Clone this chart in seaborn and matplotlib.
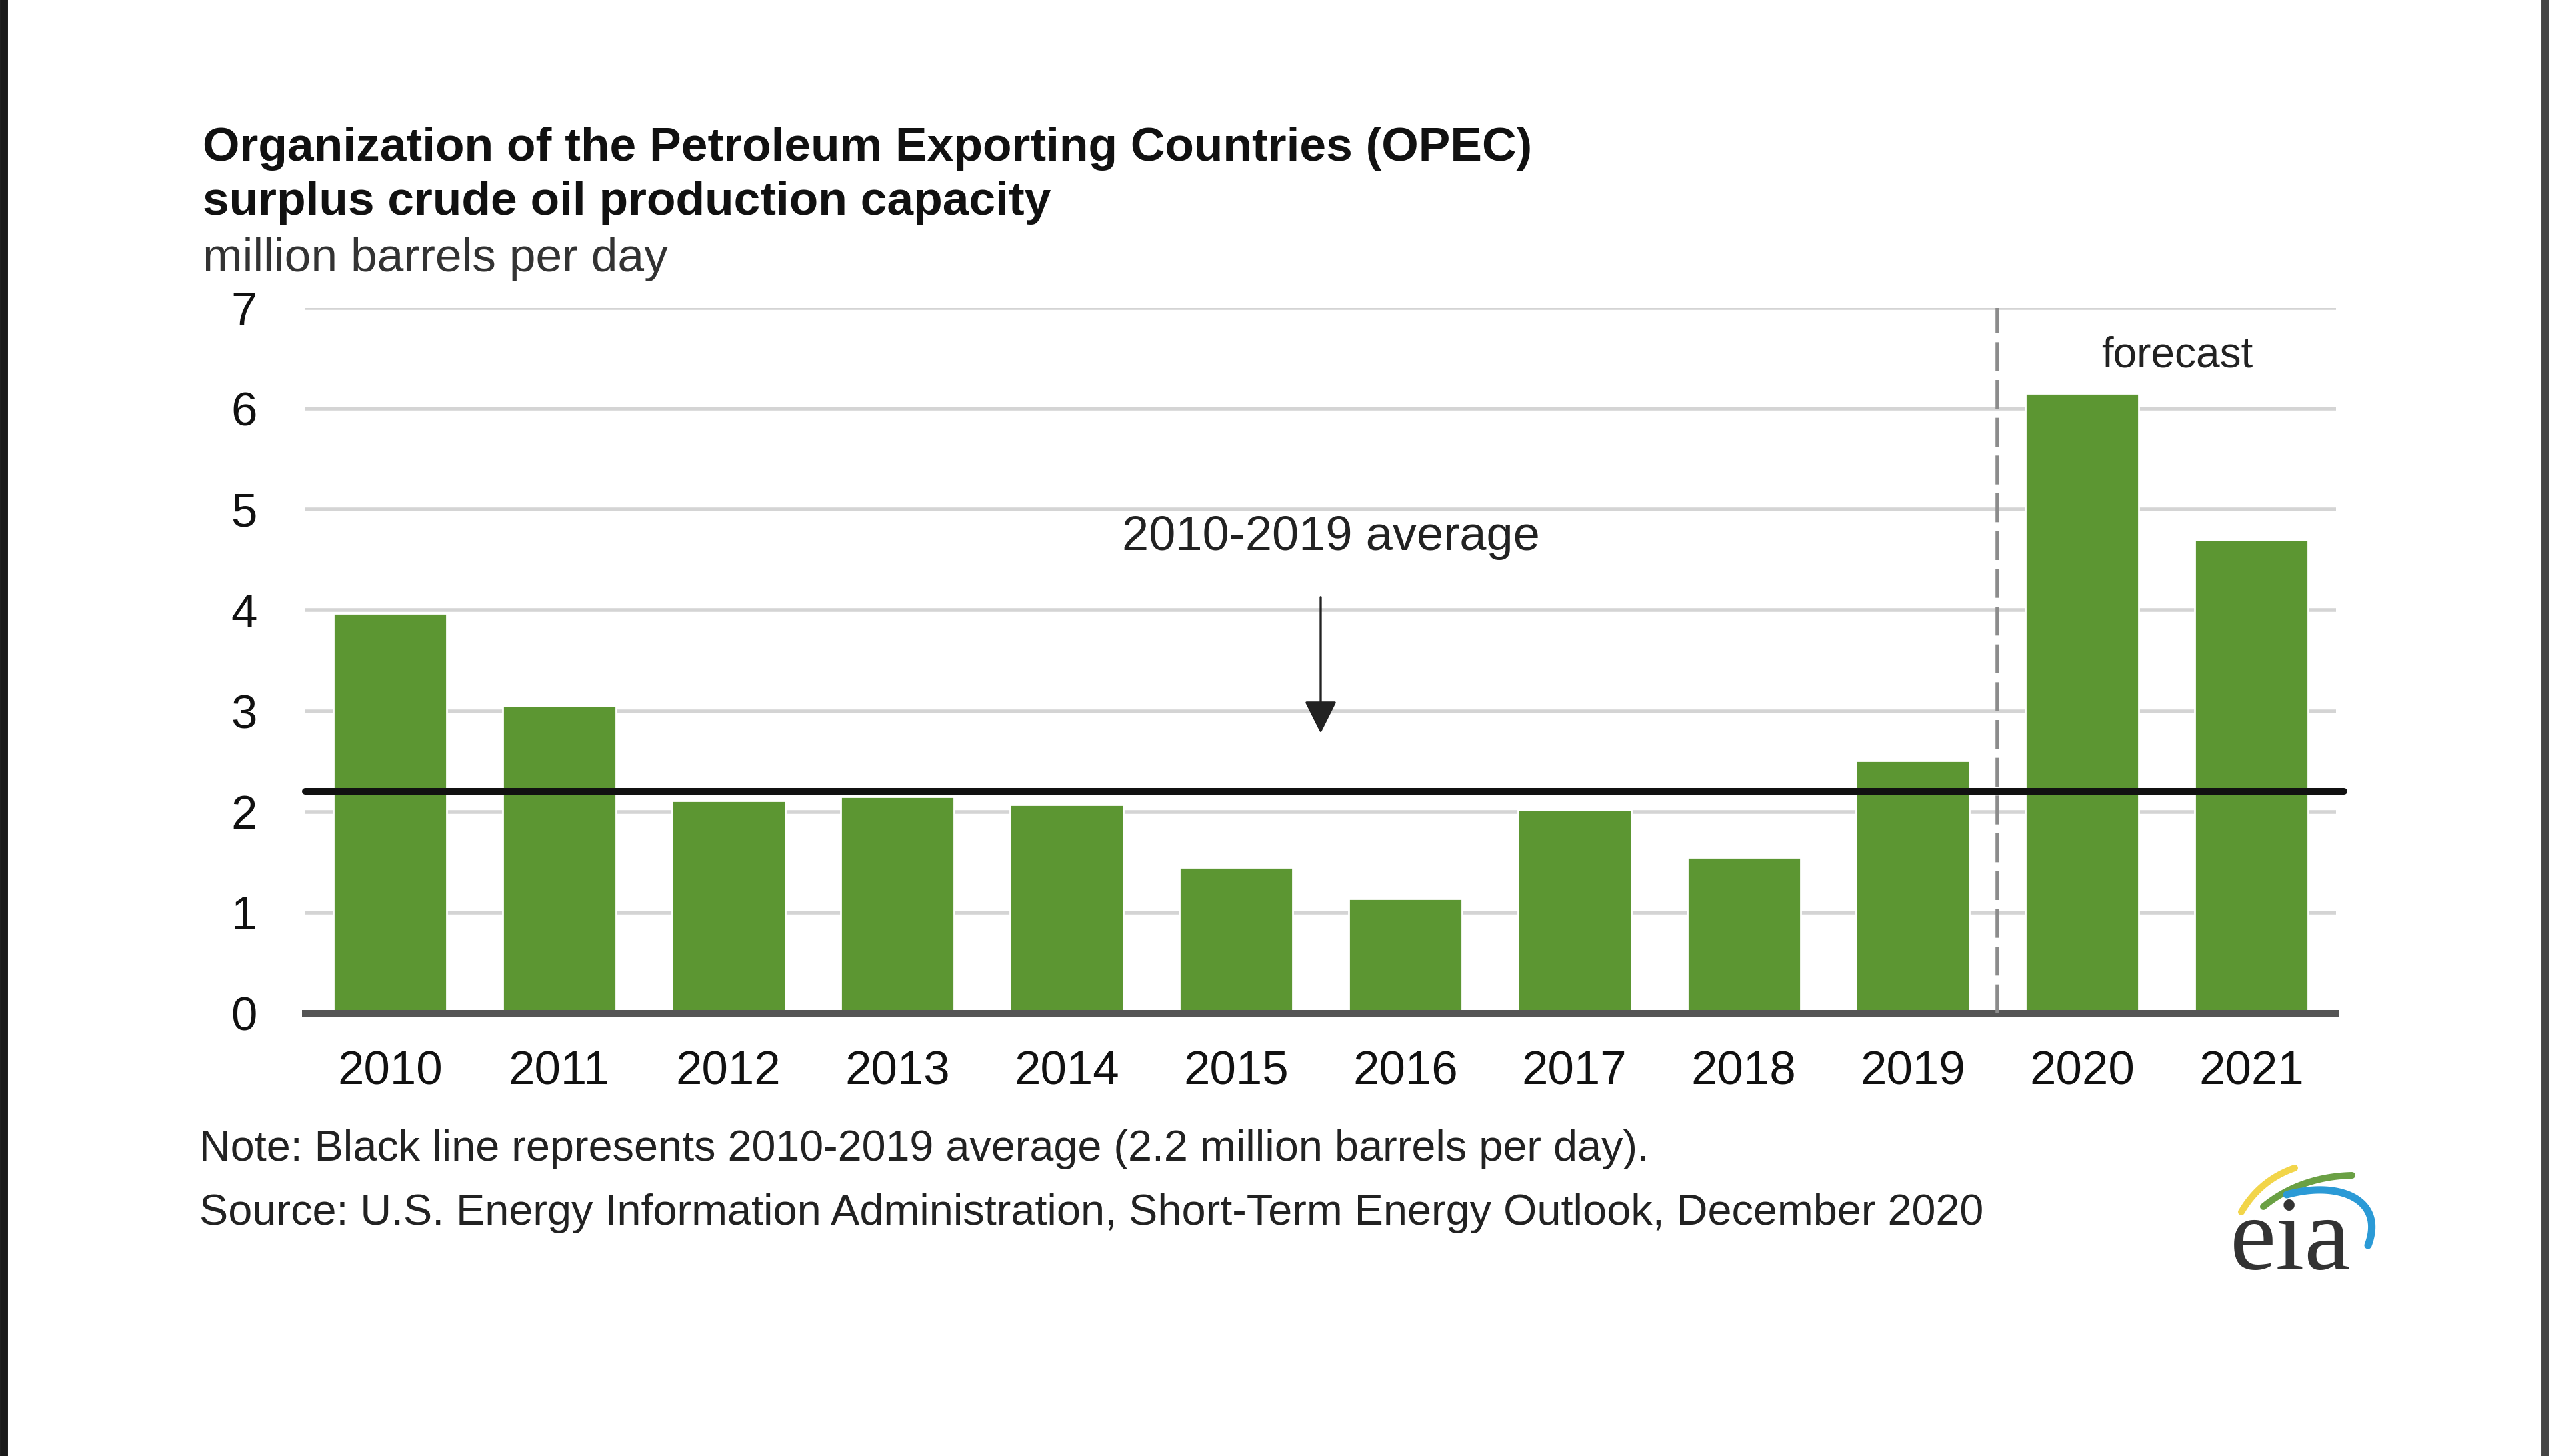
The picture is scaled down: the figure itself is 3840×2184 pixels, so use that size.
import matplotlib
matplotlib.use("Agg")
import matplotlib.pyplot as plt
import seaborn as sns
import pandas as pd
import numpy as np

# data (million barrels per day)
years = ['2010', '2011', '2012', '2013', '2014', '2015',
         '2016', '2017', '2018', '2019', '2020', '2021']
surplus = [3.97, 3.05, 2.11, 2.15, 2.07, 1.45, 1.14, 2.02, 1.55, 2.51, 6.15, 4.70]
avg_2010_2019 = 2.2
y_ticks = [0, 1, 2, 3, 4, 5, 6, 7]

title1 = "Organization of the Petroleum Exporting Countries (OPEC)"
title2 = "surplus crude oil production capacity"
units = "million barrels per day"
note = "Note: Black line represents 2010-2019 average (2.2 million barrels per day)."
source = "Source: U.S. Energy Information Administration, Short-Term Energy Outlook, December 2020"

green = '#5c9632'

sns.set_theme(style='white')
plt.rcParams['font.family'] = ['Liberation Sans', 'DejaVu Sans']

W, H = 3840, 2184
fig = plt.figure(figsize=(19.2, 10.92), dpi=200, facecolor='white')

# background layer: page borders and logo
bg = fig.add_axes([0, 0, 1, 1], zorder=-1)
bg.set_xlim(0, W)
bg.set_ylim(H, 0)
bg.axis('off')
bg.plot([6, 6], [0, H], color='#1a1a1a', lw=4.3, solid_capstyle='butt')
bg.plot([3818, 3818], [0, H], color='#444444', lw=4.3, solid_capstyle='butt')


def bez(pts, n=60):
    t = np.linspace(0, 1, n)[:, None]
    pts = [np.array(p, dtype=float) for p in pts]
    if len(pts) == 3:
        return (1 - t) ** 2 * pts[0] + 2 * (1 - t) * t * pts[1] + t ** 2 * pts[2]
    return ((1 - t) ** 3 * pts[0] + 3 * (1 - t) ** 2 * t * pts[1]
            + 3 * (1 - t) * t ** 2 * pts[2] + t ** 3 * pts[3])


c = bez([(3362, 1818), (3390, 1770), (3442, 1752)])
bg.plot(c[:, 0], c[:, 1], color='#f2d54a', lw=3.6, solid_capstyle='round')
c = bez([(3395, 1810), (3450, 1765), (3528, 1763)])
bg.plot(c[:, 0], c[:, 1], color='#6aa044', lw=3.6, solid_capstyle='round')
c = bez([(3430, 1792), (3510, 1770), (3578, 1800), (3552, 1868)])
bg.plot(c[:, 0], c[:, 1], color='#2b9ad6', lw=4, solid_capstyle='round')
bg.text(3436, 1903, 'eia', family=['Liberation Serif', 'DejaVu Serif'],
        fontsize=56, color='#333333', ha='center', va='baseline')

# main chart
ax = fig.add_axes([458 / W, 1 - 1520 / H, (3504 - 458) / W, (1520 - 462) / H])
ax.set_facecolor('none')
df = pd.DataFrame({'year': years, 'surplus': surplus})
sns.barplot(data=df, x='year', y='surplus', color=green, saturation=1,
            width=0.67, ax=ax, zorder=2)

ax.set_xlim(-0.5, 11.5)
ax.set_ylim(0, 7)
ax.set_yticks(y_ticks)
ax.set_axisbelow(True)
ax.yaxis.grid(True, color='#d4d4d4', lw=2)
ax.xaxis.grid(False)
ax.set_xlabel('')
ax.set_ylabel('')
ax.tick_params(axis='x', length=0, labelsize=25.5, pad=20, labelcolor='#111111')
ax.tick_params(axis='y', length=0, labelsize=25.5, pad=26, labelcolor='#111111')
for s in ['top', 'right', 'left']:
    ax.spines[s].set_visible(False)
ax.spines['bottom'].set_color('#555555')
ax.spines['bottom'].set_linewidth(3.6)

ax.axhline(avg_2010_2019, xmax=1.004, color='#111111', lw=3.6, zorder=3,
           clip_on=False)
ax.axvline(9.5, color='#8c8c8c', lw=2, dashes=(7.8, 2.4), zorder=4)

ax.annotate('', xy=(5.5, 2.78), xytext=(5.5, 4.13),
            arrowprops=dict(arrowstyle='-|>,head_length=0.4,head_width=0.2',
                            mutation_scale=38, lw=1.2, color='#222222',
                            shrinkA=0, shrinkB=0))
ax.text(5.56, 4.72, '2010-2019 average', ha='center', va='center',
        fontsize=26, color='#222222')
ax.text(10.56, 6.53, 'forecast', ha='center', va='center',
        fontsize=23, color='#222222')

# titles and notes
fig.text(304 / W, 1 - 223 / H, title1, fontsize=25.7, fontweight='bold',
         va='center', color='#111111')
fig.text(304 / W, 1 - 304 / H, title2, fontsize=25.7, fontweight='bold',
         va='center', color='#111111')
fig.text(304 / W, 1 - 389 / H, units, fontsize=25.7, va='center', color='#333333')
fig.text(299 / W, 1 - 1724 / H, note, fontsize=23.3, va='center', color='#222222')
fig.text(299 / W, 1 - 1820 / H, source, fontsize=23.3, va='center', color='#222222')

fig.savefig('out.png', dpi=200)
